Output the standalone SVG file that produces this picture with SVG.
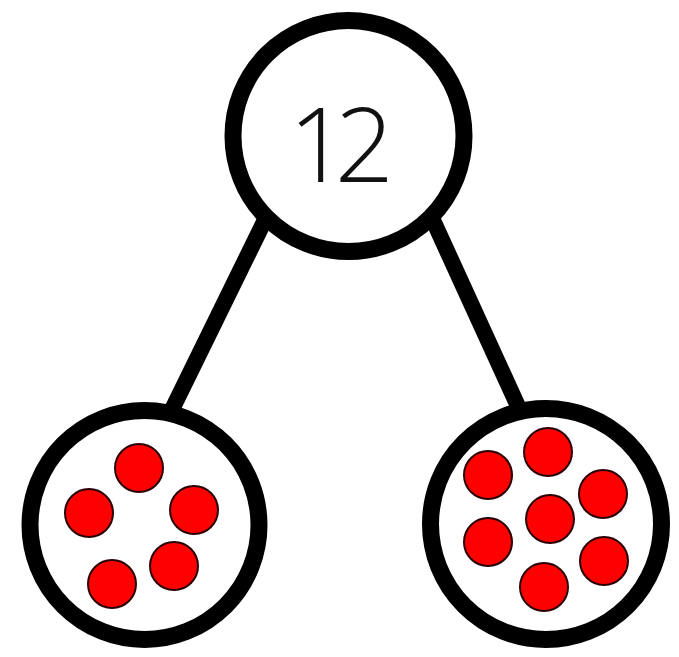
<svg xmlns="http://www.w3.org/2000/svg" width="679" height="657" viewBox="0 0 679 657">
<style>
.ring{fill:#fff;stroke:#000;stroke-width:17}
.link{stroke:#000;stroke-width:16;fill:none}
.dot{fill:#ff0000;stroke:#2a0000;stroke-width:2}
.num{font-family:"Open Sans","Liberation Sans",sans-serif;font-weight:300;font-size:104px;fill:#111;letter-spacing:-13px}
</style>
<rect width="679" height="657" fill="#fff"/>
<g id="connectors">
<line class="link" x1="274.7" y1="200" x2="166.9" y2="420"/>
<line class="link" x1="423.8" y1="200" x2="524.3" y2="420"/>
</g>
<g id="node-top">
<circle class="ring" cx="348.5" cy="136" r="115.5"/>
<text class="num" x="288.5" y="182">12</text>
</g>
<g id="node-left">
<circle class="ring" cx="144.5" cy="525" r="114.5"/>
<circle class="dot" cx="139" cy="468" r="24"/>
<circle class="dot" cx="89" cy="513" r="24"/>
<circle class="dot" cx="194" cy="510" r="24"/>
<circle class="dot" cx="174" cy="566" r="24"/>
<circle class="dot" cx="112" cy="584" r="24"/>
</g>
<g id="node-right">
<circle class="ring" cx="546" cy="524" r="115.5"/>
<circle class="dot" cx="548" cy="452" r="24"/>
<circle class="dot" cx="488" cy="475" r="24"/>
<circle class="dot" cx="603" cy="494" r="24"/>
<circle class="dot" cx="550" cy="519" r="24"/>
<circle class="dot" cx="488" cy="542" r="24"/>
<circle class="dot" cx="604" cy="561" r="24"/>
<circle class="dot" cx="544" cy="587" r="24"/>
</g>
</svg>
